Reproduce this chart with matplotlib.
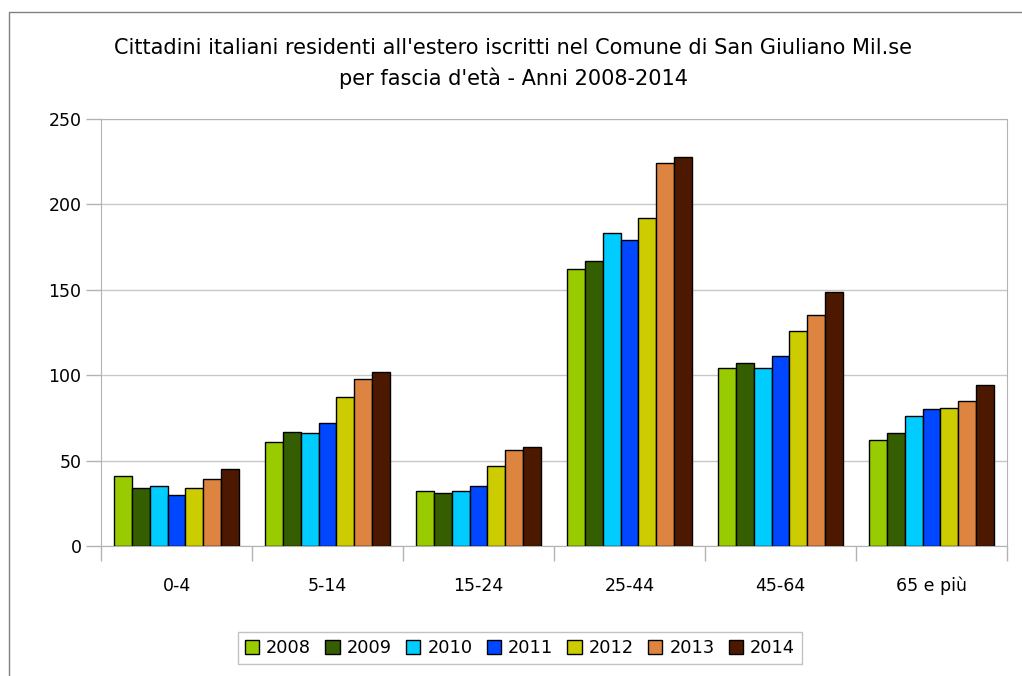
import numpy as np
import matplotlib
matplotlib.use('Agg')
import matplotlib.pyplot as plt
from matplotlib.patches import Rectangle

categories = ['0-4', '5-14', '15-24', '25-44', '45-64', '65 e più']
years = ['2008', '2009', '2010', '2011', '2012', '2013', '2014']
v2008 = [41, 61, 32, 162, 104, 62]
v2009 = [34, 67, 31, 167, 107, 66]
v2010 = [35, 66, 32, 183, 104, 76]
v2011 = [30, 72, 35, 179, 111, 80]
v2012 = [34, 87, 47, 192, 126, 81]
v2013 = [39, 98, 56, 224, 135, 85]
v2014 = [45, 102, 58, 228, 149, 94]
series = [v2008, v2009, v2010, v2011, v2012, v2013, v2014]
colors = ['#99cc00', '#355e00', '#00ccff', '#0047ff', '#cccc00', '#dd8440', '#4c1900']

plt.rcParams['font.family'] = 'DejaVu Sans'

fig = plt.figure(figsize=(10.22, 6.76), dpi=100)
ax = fig.add_axes([101/1022, 1-546/676, 906/1022, 427/676])

x = np.arange(len(categories))
w = 0.826 / 7
for i, (vals, c) in enumerate(zip(series, colors)):
    ax.bar(x - 0.413 + w*(i+0.5), vals, width=w, color=c, edgecolor='black',
           linewidth=1, label=years[i], zorder=3)

ax.set_xlim(-0.5, len(categories)-0.5)
ax.set_ylim(0, 250)
ax.set_yticks([0, 50, 100, 150, 200, 250])
ax.yaxis.grid(True, color='#c8c8c8', linewidth=1, zorder=0)
ax.set_xticks(np.arange(len(categories)+1) - 0.5)
ax.set_xticklabels([])
ax.set_xticks(x, minor=True)
ax.set_xticklabels(categories, minor=True, fontsize=12.5)
ax.tick_params(axis='x', which='major', length=11, color='#b3b3b3', width=1)
ax.tick_params(axis='x', which='minor', length=0, pad=22)
ax.tick_params(axis='y', length=11, color='#b3b3b3', width=1, labelsize=12.5, pad=3)
for s in ax.spines.values():
    s.set_color('#b3b3b3')

fig.text(0.502, 1-48/676, "Cittadini italiani residenti all'estero iscritti nel Comune di San Giuliano Mil.se",
         ha='center', va='center', fontsize=15)
fig.text(0.502, 1-78/676, "per fascia d'età - Anni 2008-2014", ha='center', va='center', fontsize=15)

leg = fig.legend(loc='center', bbox_to_anchor=(520/1022, 1-648/676), ncol=7, fontsize=12.8,
                 frameon=True, fancybox=False, edgecolor='#b3b3b3', handlelength=0.8,
                 handleheight=0.8, handletextpad=0.4, columnspacing=0.8, borderpad=0.4)
leg.get_frame().set_linewidth(1)

fig.patches.append(Rectangle((9/1022, -0.1), 1.2, 1-12/676+0.1, transform=fig.transFigure,
                             fill=False, edgecolor='#808080', linewidth=1))

fig.savefig('out.png', dpi=100)
